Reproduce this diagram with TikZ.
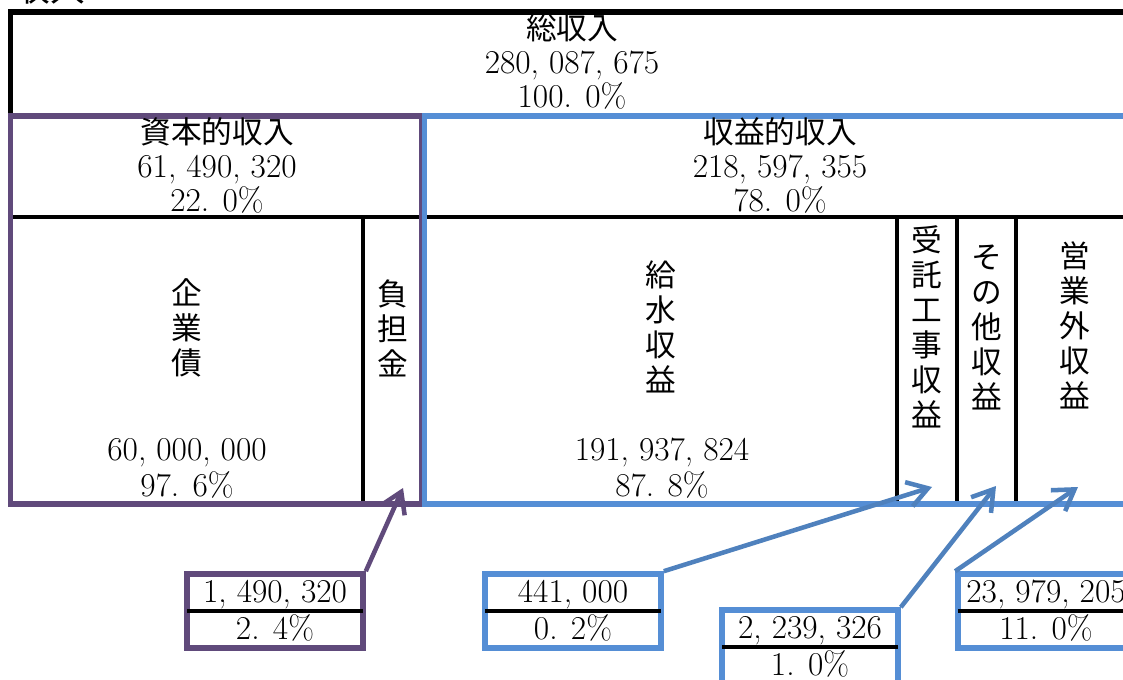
\documentclass[tikz,border=0pt]{standalone}
\usepackage{fontspec}
\newfontfamily\jp{Noto Sans CJK JP}
\usetikzlibrary{arrows.meta}

\definecolor{purp}{HTML}{604A7B}
\definecolor{blu}{HTML}{558ED5}
\definecolor{bluarr}{HTML}{4F81BD}

\tikzset{
  lbl/.style={font=\fontsize{25}{25.5}\selectfont, align=center, inner sep=0pt},
  vlbl/.style={lbl, font=\jp\fontsize{23}{26.25}\selectfont},
  numlbl/.style={lbl, font=\fontsize{25}{27}\selectfont},
  cell/.style={line width=4.2pt},
  sep/.style={line width=2.6pt, black},
  valbox/.style={draw=#1, line width=4.2pt, minimum width=132pt, minimum height=55.5pt,
    inner sep=0pt, font=\fontsize{25}{27.75}\selectfont, align=center},
  divline/.style={line width=2.6pt, black, shorten <=2pt, shorten >=2pt},
  arr/.style={draw=#1, line width=3.4pt, -{Straight Barb[length=15pt, width=19pt]}}
}

\begin{document}
\begin{tikzpicture}[x=0.75pt, y=-0.75pt]

    % === Layout (px of the page) ===
    \def\xl{10.5}  \def\xr{1145}
    \def\ytop{12}  \def\ymid{116}
    \def\yhead{217} \def\ybot{504}
    \def\xpurp{421.5} \def\xblu{424.5}

    \useasboundingbox (0,0) rectangle (1123,680);
    \clip (0,0) rectangle (1123,680);

    % === Title (cut at the top edge) ===
    \node[vlbl, font=\jp\fontsize{26}{28}\selectfont] (title) at (50,-12) {収入};

    % === Total box ===
    \draw[cell, black] (\xl,\ytop) rectangle (\xr,\ymid);

    % === Inner lines ===
    \draw[sep] (\xl,\yhead) -- (\xr,\yhead);
    \draw[sep] (363,\yhead) -- (363,\ybot);
    \draw[sep] (897,\yhead) -- (897,\ybot);
    \draw[sep] (957,\yhead) -- (957,\ybot);
    \draw[sep] (1016,\yhead) -- (1016,\ybot);

    % === Capital / revenue boxes ===
    \draw[cell, purp] (\xl,\ymid) rectangle (\xpurp,\ybot);
    \draw[cell, blu] (\xblu,\ymid) rectangle (\xr,\ybot);

    % === Header labels ===
    \node[lbl] (total) at (572,62) {{\jp\fontsize{23}{25.5}\selectfont 総収入}\\280, 087, 675\\100. 0\%};
    \node[lbl] (capital) at (217,165) {{\jp\fontsize{23}{25.5}\selectfont 資本的収入}\\61, 490, 320\\22. 0\%};
    \node[lbl] (revenue) at (780,165) {{\jp\fontsize{23}{25.5}\selectfont 収益的収入}\\218, 597, 355\\78. 0\%};

    % === Column labels ===
    \node[vlbl] (bond) at (187,328) {企\\業\\債};
    \node[vlbl] (contrib) at (393,328) {負\\担\\金};
    \node[vlbl] (water) at (661,327) {給\\水\\収\\益};
    \node[vlbl] (works) at (927,327) {受\\託\\工\\事\\収\\益};
    \node[vlbl] (other) at (987,327) {そ\\の\\他\\収\\益};
    \node[vlbl] (nonop) at (1075,325) {営\\業\\外\\収\\益};

    \node[numlbl] (bondval) at (187,468) {60, 000, 000\\97. 6\%};
    \node[numlbl] (waterval) at (662,468) {191, 937, 824\\87. 8\%};

    % === Value boxes ===
    \node[valbox=purp] (bxcontrib) at (275,611) {1, 490, 320\\2. 4\%};
    \node[valbox=blu] (bxworks) at (573,611) {441, 000\\0. 2\%};
    \node[valbox=blu] (bxother) at (810,647) {2, 239, 326\\1. 0\%};
    \node[valbox=blu] (bxnonop) at (1046,611) {23, 979, 205\\11. 0\%};

    \foreach \b in {bxcontrib, bxworks, bxother, bxnonop}
        \draw[divline] (\b.west) -- (\b.east);

    % === Arrows ===
    \coordinate (tcontrib) at (403,488);
    \coordinate (tworks) at (932,487);
    \coordinate (tother) at (996,486);
    \coordinate (tnonop) at (1078,487);

    \draw[arr=purp] (bxcontrib.north east) -- (tcontrib);
    \draw[arr=bluarr] (bxworks.north east) -- (tworks);
    \draw[arr=bluarr] (bxother.north east) -- (tother);
    \draw[arr=bluarr] (bxnonop.north west) -- (tnonop);

\end{tikzpicture}
\end{document}
